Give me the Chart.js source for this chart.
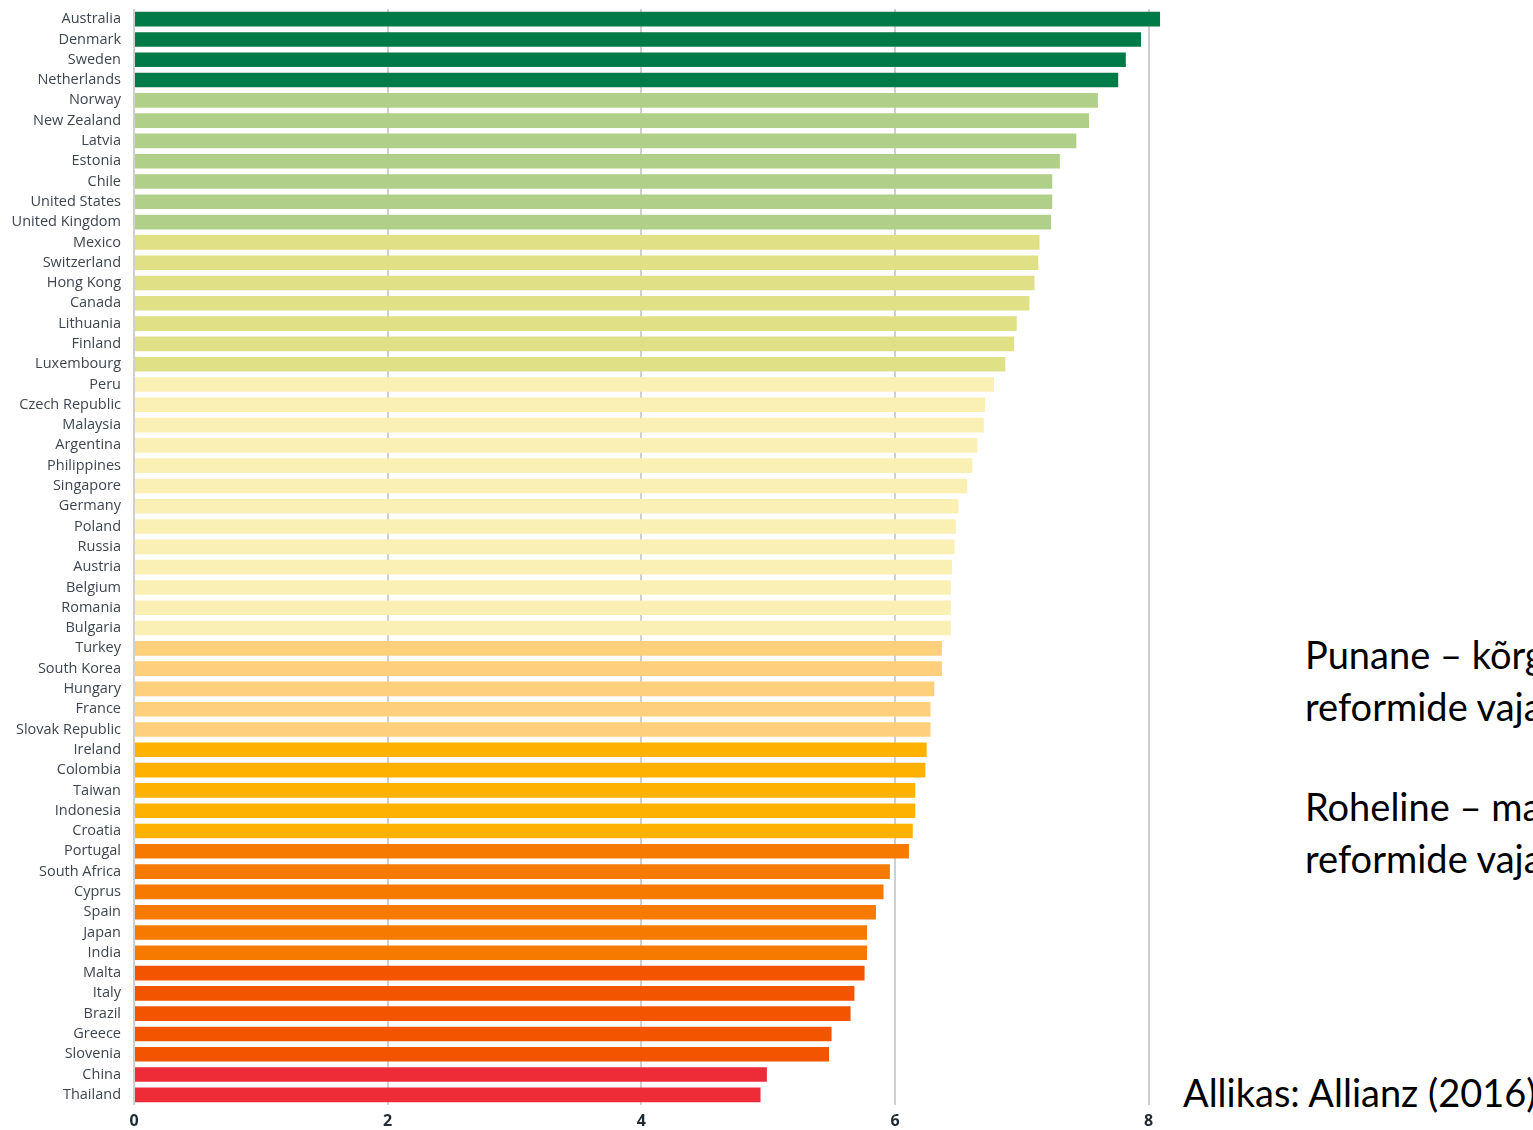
<!DOCTYPE html>
<html>
<head>
<meta charset="utf-8">
<script src="https://cdn.jsdelivr.net/npm/chart.js@4"></script>
<style>
  html, body { margin: 0; padding: 0; background: #fff; width: 1533px; height: 1130px; overflow: hidden; }
  #wrap { position: absolute; left: 0; top: 0; width: 1174px; height: 1130px; }
  .note { position: absolute; font-family: "Lato", "Open Sans", sans-serif; color: #000; white-space: nowrap; font-size: 38px; line-height: 52px; }
</style>
</head>
<body>
<div id="wrap"><canvas id="c"></canvas></div>
<div class="note" style="left:1305px; top:628px;">Punane – kõrge<br>reformide vajadus</div>
<div class="note" style="left:1305px; top:780px;">Roheline – madal<br>reformide vajadus</div>
<div class="note" style="left:1183px; top:1066px;">Allikas: Allianz (2016)</div>
<script>
const countries = ["Australia","Denmark","Sweden","Netherlands","Norway","New Zealand","Latvia","Estonia","Chile","United States","United Kingdom","Mexico","Switzerland","Hong Kong","Canada","Lithuania","Finland","Luxembourg","Peru","Czech Republic","Malaysia","Argentina","Philippines","Singapore","Germany","Poland","Russia","Austria","Belgium","Romania","Bulgaria","Turkey","South Korea","Hungary","France","Slovak Republic","Ireland","Colombia","Taiwan","Indonesia","Croatia","Portugal","South Africa","Cyprus","Spain","Japan","India","Malta","Italy","Brazil","Greece","Slovenia","China","Thailand"];
const scores = [8.09,7.94,7.82,7.76,7.60,7.53,7.43,7.30,7.24,7.24,7.23,7.14,7.13,7.10,7.06,6.96,6.94,6.87,6.78,6.71,6.70,6.65,6.61,6.57,6.50,6.48,6.47,6.45,6.44,6.44,6.44,6.37,6.37,6.31,6.28,6.28,6.25,6.24,6.16,6.16,6.14,6.11,5.96,5.91,5.85,5.78,5.78,5.76,5.68,5.65,5.50,5.48,4.99,4.94];
// colour group of each country (index into groupColors)
const groups = [0,0,0,0,1,1,1,1,1,1,1,2,2,2,2,2,2,2,3,3,3,3,3,3,3,3,3,3,3,3,3,4,4,4,4,4,5,5,5,5,5,6,6,6,6,6,6,7,7,7,7,7,8,8];
const groupColors = ["#007A47","#B0CF88","#E0E086","#FBF0B3","#FFD07B","#FFB100","#F77A00","#F25400","#EE2C37"];
const xTicks = [0,2,4,6,8];

new Chart(document.getElementById('c'), {
  type: 'bar',
  data: {
    labels: countries,
    datasets: [{
      data: scores,
      backgroundColor: groups.map(g => groupColors[g]),
      borderWidth: 0,
      barPercentage: 0.72,
      categoryPercentage: 1.0
    }]
  },
  options: {
    indexAxis: 'y',
    responsive: true,
    maintainAspectRatio: false,
    animation: false,
    layout: { padding: { top: 9, right: 0, left: 0, bottom: 0 } },
    plugins: { legend: { display: false }, tooltip: { enabled: false } },
    scales: {
      x: {
        min: 0, max: 8.2,
        afterBuildTicks: axis => { axis.ticks = xTicks.map(v => ({ value: v })); },
        afterFit: s => { s.height = 25; s.paddingLeft = 0; s.paddingRight = 0; },
        border: { display: false },
        grid: { color: '#cfcfcf', lineWidth: 2, drawTicks: false },
        ticks: { padding: 7, color: '#1f2a33', font: { family: 'Open Sans', size: 16, weight: 'bold' } }
      },
      y: {
        afterFit: s => { s.width = 134; s.paddingTop = 0; s.paddingBottom = 0; },
        border: { display: false },
        grid: { display: false, drawTicks: false },
        ticks: { padding: 13, autoSkip: false, color: '#3d4650', font: { family: 'Open Sans', size: 14.5 } }
      }
    }
  }
});
</script>
</body>
</html>
